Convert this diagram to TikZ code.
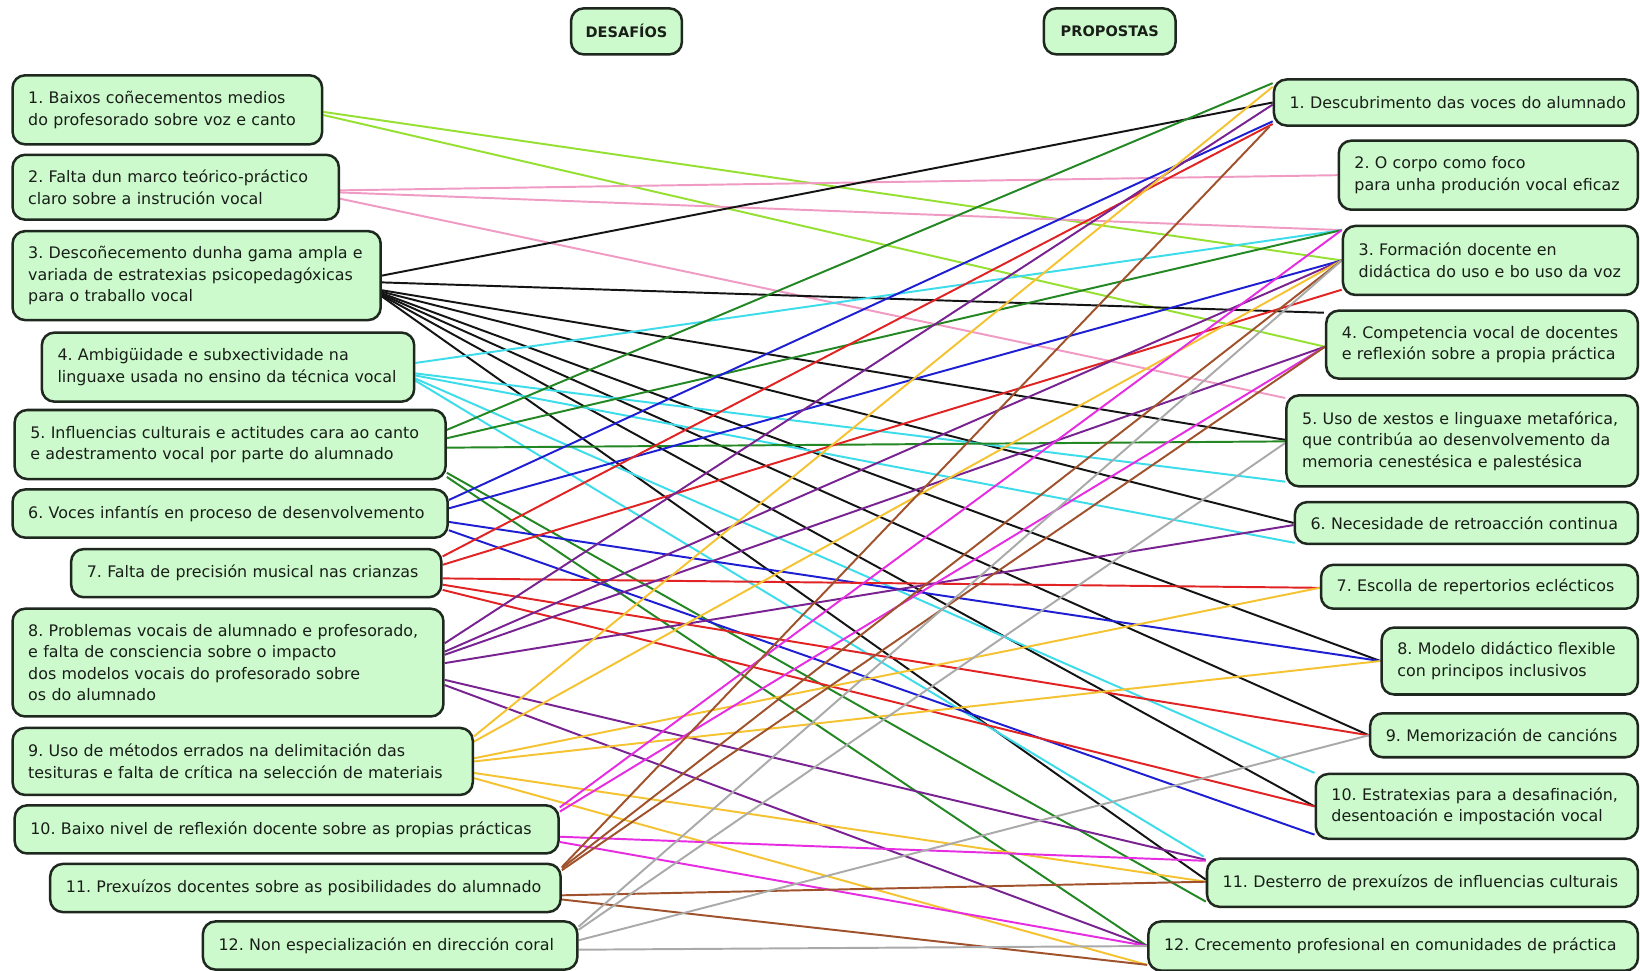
\documentclass[tikz,border=0pt]{standalone}
\usepackage{fontspec}
\setmainfont{DejaVu Sans}
\usetikzlibrary{calc}
\pgfdeclarelayer{bg}
\pgfsetlayers{bg,main}
\definecolor{boxfill}{RGB}{204,250,204}
\definecolor{boxline}{RGB}{30,40,30}
\definecolor{txt}{RGB}{25,30,25}
\definecolor{cyg}{RGB}{150,224,50}
\definecolor{cpk}{RGB}{240,155,195}
\definecolor{cbk}{RGB}{20,20,20}
\definecolor{ccy}{RGB}{60,220,235}
\definecolor{cgn}{RGB}{35,135,35}
\definecolor{cbl}{RGB}{30,30,210}
\definecolor{crd}{RGB}{225,35,35}
\definecolor{cpu}{RGB}{120,35,145}
\definecolor{cgd}{RGB}{245,195,50}
\definecolor{cmg}{RGB}{230,45,225}
\definecolor{cbr}{RGB}{160,82,45}
\definecolor{cgy}{RGB}{170,170,170}
\newcommand\Ln[1]{\mbox{#1}}
\frenchspacing
\tikzset{
  box/.style={draw=boxline, line width=1.8pt, fill=boxfill, rounded corners=9pt,
    align=left, inner xsep=11.25pt, inner ysep=0pt, text=txt,
    font=\frenchspacing\fontsize{11.4pt}{15.4pt}\selectfont},
  hdr/.style={draw=boxline, line width=1.8pt, fill=boxfill, rounded corners=9pt,
    align=center, inner sep=0pt, text=txt,
    font=\bfseries\fontsize{10.4pt}{12pt}\selectfont},
  bx/.style n args={3}{minimum width=#1, minimum height=#2, text width=#3},
  conn/.style={line width=1.4pt}
}
\begin{document}
\begin{tikzpicture}[x=0.75pt,y=-0.75pt]
\path[use as bounding box] (0,0) rectangle (1568,928);

% headers
\node[hdr, minimum width=79.5pt, minimum height=33pt] (H1) at (599,30) {DESAFÍOS};
\node[hdr, minimum width=94.5pt, minimum height=33pt] (H2) at (1061,30) {PROPOSTAS};

% left boxes
\node[box, bx={222pt}{49.5pt}{199.5pt}] (L1) at (160,105)
  {\Ln{1. Baixos coñecementos medios}\\\Ln{do profesorado sobre voz e canto}};
\node[box, bx={234pt}{46.5pt}{211.5pt}] (L2) at (168,179)
  {\Ln{2. Falta dun marco teórico-práctico}\\\Ln{claro sobre a instrución vocal}};
\node[box, bx={264pt}{63.75pt}{241.5pt}] (L3) at (188,263.5)
  {\Ln{3. Descoñecemento dunha gama ampla e}\\\Ln{variada de estratexias psicopedagóxicas}\\\Ln{para o traballo vocal}};
\node[box, bx={267pt}{49.5pt}{244.5pt}] (L4) at (218,351)
  {\Ln{4. Ambigüidade e subxectividade na}\\\Ln{linguaxe usada no ensino da técnica vocal}};
\node[box, bx={309pt}{49.5pt}{286.5pt}] (L5) at (220,425)
  {\Ln{5. Influencias culturais e actitudes cara ao canto}\\\Ln{e adestramento vocal por parte do alumnado}};
\node[box, bx={312pt}{34.5pt}{289.5pt}] (L6) at (220,491)
  {\Ln{6. Voces infantís en proceso de desenvolvemento}};
\node[box, bx={265.5pt}{34.5pt}{243pt}] (L7) at (245,548)
  {\Ln{7. Falta de precisión musical nas crianzas}};
\node[box, bx={309pt}{77.25pt}{286.5pt}] (L8) at (218,633.5)
  {\Ln{8. Problemas vocais de alumnado e profesorado,}\\\Ln{e falta de consciencia sobre o impacto}\\\Ln{dos modelos vocais do profesorado sobre}\\\Ln{os do alumnado}};
\node[box, bx={330pt}{48pt}{307.5pt}] (L9) at (232,728)
  {\Ln{9. Uso de métodos errados na delimitación das}\\\Ln{tesituras e falta de crítica na selección de materiais}};
\node[box, bx={390pt}{34.5pt}{367.5pt}] (L10) at (274,793)
  {\Ln{10. Baixo nivel de reflexión docente sobre as propias prácticas}};
\node[box, bx={366pt}{34.5pt}{343.5pt}] (L11) at (292,849)
  {\Ln{11. Prexuízos docentes sobre as posibilidades do alumnado}};
\node[box, bx={268.5pt}{34.5pt}{246pt}] (L12) at (373,904)
  {\Ln{12. Non especialización en dirección coral}};

% right boxes
\node[box, bx={261pt}{33pt}{238.5pt}] (R1) at (1392,98)
  {\Ln{1. Descubrimento das voces do alumnado}};
\node[box, bx={214.5pt}{49.5pt}{192pt}] (R2) at (1423,167.5)
  {\Ln{2. O corpo como foco}\\\Ln{para unha produción vocal eficaz}};
\node[box, bx={211.5pt}{49.5pt}{189pt}] (R3) at (1425,249)
  {\Ln{3. Formación docente en}\\\Ln{didáctica do uso e bo uso da voz}};
\node[box, bx={223.5pt}{48.75pt}{201pt}] (R4) at (1417,329.5)
  {\Ln{4. Competencia vocal de docentes}\\\Ln{e reflexión sobre a propia práctica}};
\node[box, bx={252pt}{65.25pt}{229.5pt}] (R5) at (1398,421.5)
  {\Ln{5. Uso de xestos e linguaxe metafórica,}\\\Ln{que contribúa ao desenvolvemento da}\\\Ln{memoria cenestésica e palestésica}};
\node[box, bx={246pt}{30pt}{223.5pt}] (R6) at (1402,500)
  {\Ln{6. Necesidade de retroacción continua}};
\node[box, bx={227.25pt}{31.5pt}{204.75pt}] (R7) at (1414.5,561)
  {\Ln{7. Escolla de repertorios eclécticos}};
\node[box, bx={183.75pt}{48pt}{161.25pt}] (R8) at (1443.5,632)
  {\Ln{8. Modelo didáctico flexible}\\\Ln{con principos inclusivos}};
\node[box, bx={192pt}{31.5pt}{169.5pt}] (R9) at (1438,703)
  {\Ln{9. Memorización de cancións}};
\node[box, bx={231pt}{46.5pt}{208.5pt}] (R10) at (1412,771)
  {\Ln{10. Estratexias para a desafinación,}\\\Ln{desentoación e impostación vocal}};
\node[box, bx={309pt}{34.5pt}{286.5pt}] (R11) at (1360,844)
  {\Ln{11. Desterro de prexuízos de influencias culturais}};
\node[box, bx={351pt}{35.25pt}{328.5pt}] (R12) at (1332,904.5)
  {\Ln{12. Crecemento profesional en comunidades de práctica}};

\begin{pgfonlayer}{bg}
\fill[white] (0,0) rectangle (1568,928);
% 1 yellow-green
\draw[conn, cyg] ($(L1.east)+(0,2)$) -- (R3.west);
\draw[conn, cyg] ($(L1.east)+(0,5)$) -- ($(R4.west)+(0,2)$);
% 2 pink
\draw[conn, cpk] ($(L2.east)+(0,3)$) -- (R2.west);
\draw[conn, cpk] ($(L2.east)+(0,5)$) -- ($(R3.west)+(0,-29)$);
\draw[conn, cpk] ($(L2.east)+(0,11)$) -- ($(R5.west)+(0,-41)$);
% 3 black
\draw[conn, cbk] ($(L3.east)+(0,0)$) -- (R1.west);
\draw[conn, cbk] ($(L3.east)+(0,6.5)$) -- ($(R4.west)+(-1,-30.5)$);
\draw[conn, cbk] ($(L3.east)+(0,14)$) -- ($(R5.west)+(0,-1)$);
\draw[conn, cbk] ($(L3.east)+(0,15.5)$) -- (R6.west);
\draw[conn, cbk] ($(L3.east)+(0,17)$) -- (R8.west);
\draw[conn, cbk] ($(L3.east)+(0,18)$) -- (R9.west);
\draw[conn, cbk] ($(L3.east)+(0,19)$) -- (R10.west);
\draw[conn, cbk] ($(L3.east)+(0,20)$) -- ($(R11.west)+(0,-3)$);
% 4 cyan
\draw[conn, ccy] ($(L4.east)+(0,-4)$) -- ($(R3.west)+(0,-29)$);
\draw[conn, ccy] ($(L4.east)+(0,6)$) -- ($(R5.west)+(0,39)$);
\draw[conn, ccy] ($(L4.east)+(0,8)$) -- ($(R6.west)+(1,19)$);
\draw[conn, ccy] ($(L4.east)+(0,11)$) -- ($(R10.west)+(0,-32)$);
\draw[conn, ccy] ($(L4.east)+(0,13)$) -- ($(R11.west)+(-2,-25)$);
% 5 green
\draw[conn, cgn] ($(L5.east)+(0,-14)$) -- ($(R1.west)+(0,-18.5)$);
\draw[conn, cgn] ($(L5.east)+(0,-6)$) -- ($(R3.west)+(0,-29)$);
\draw[conn, cgn] ($(L5.east)+(0,3)$) -- ($(R5.west)+(0,0.5)$);
\draw[conn, cgn] ($(L5.east)+(0,27)$) -- ($(R11.west)+(0,18)$);
\draw[conn, cgn] ($(L5.east)+(0,31)$) -- (R12.west);
% 6 blue
\draw[conn, cbl] ($(L6.east)+(0,-13)$) -- ($(R1.west)+(0,18)$);
\draw[conn, cbl] ($(L6.east)+(0,-5)$) -- (R3.west);
\draw[conn, cbl] ($(L6.east)+(0,8)$) -- (R8.west);
\draw[conn, cbl] ($(L6.east)+(0,16)$) -- ($(R10.west)+(0,27)$);
% 7 red
\draw[conn, crd] ($(L7.east)+(0,-16)$) -- ($(R1.west)+(0,20.5)$);
\draw[conn, crd] ($(L7.east)+(0,-8)$) -- ($(R3.west)+(0,28)$);
\draw[conn, crd] ($(L7.east)+(0,5)$) -- ($(R7.west)+(0,1)$);
\draw[conn, crd] ($(L7.east)+(0,11)$) -- (R9.west);
\draw[conn, crd] ($(L7.east)+(0,16)$) -- (R10.west);
% 8 purple
\draw[conn, cpu] ($(L8.east)+(0,-18.5)$) -- ($(R1.west)+(0,2)$);
\draw[conn, cpu] ($(L8.east)+(0,-10.5)$) -- (R3.west);
\draw[conn, cpu] ($(L8.east)+(0,-7.5)$) -- ($(R4.west)+(0,2)$);
\draw[conn, cpu] ($(L8.east)+(0,0.5)$) -- ($(R6.west)+(0,2)$);
\draw[conn, cpu] ($(L8.east)+(0,16.5)$) -- ($(R11.west)+(0,-22)$);
\draw[conn, cpu] ($(L8.east)+(0,21.5)$) -- (R12.west);
% 9 gold
\draw[conn, cgd] ($(L9.east)+(0,-24)$) -- ($(R1.west)+(0,-15)$);
\draw[conn, cgd] ($(L9.east)+(0,-19)$) -- (R3.west);
\draw[conn, cgd] ($(L9.east)+(0,-3)$) -- ($(R7.west)+(0,1)$);
\draw[conn, cgd] ($(L9.east)+(0,0)$) -- (R8.west);
\draw[conn, cgd] ($(L9.east)+(0,11)$) -- ($(R11.west)+(0,-1)$);
\draw[conn, cgd] ($(L9.east)+(0,16)$) -- ($(R12.west)+(0,18)$);
% 10 magenta
\draw[conn, cmg] ($(L10.east)+(0,-21)$) -- ($(R3.west)+(0,-29)$);
\draw[conn, cmg] ($(L10.east)+(0,-17)$) -- ($(R4.west)+(0,2)$);
\draw[conn, cmg] ($(L10.east)+(0,7)$) -- ($(R11.west)+(0,-21)$);
\draw[conn, cmg] ($(L10.east)+(0,12)$) -- (R12.west);
% 11 brown
\draw[conn, cbr] ($(L11.east)+(0,-20)$) -- ($(R1.west)+(-3,23)$);
\draw[conn, cbr] ($(L11.east)+(0,-19)$) -- (R3.west);
\draw[conn, cbr] ($(L11.east)+(0,-17)$) -- ($(R4.west)+(0,2)$);
\draw[conn, cbr] ($(L11.east)+(0,7)$) -- ($(R11.west)+(0,-1)$);
\draw[conn, cbr] ($(L11.east)+(0,11)$) -- ($(R12.west)+(0,18)$);
% 12 gray
\draw[conn, cgy] ($(L12.east)+(0,-18)$) -- (R3.west);
\draw[conn, cgy] ($(L12.east)+(0,-15)$) -- ($(R5.west)+(0,2)$);
\draw[conn, cgy] ($(L12.east)+(0,-5)$) -- (R9.west);
\draw[conn, cgy] ($(L12.east)+(0,4)$) -- (R12.west);
\end{pgfonlayer}
\end{tikzpicture}
\end{document}
